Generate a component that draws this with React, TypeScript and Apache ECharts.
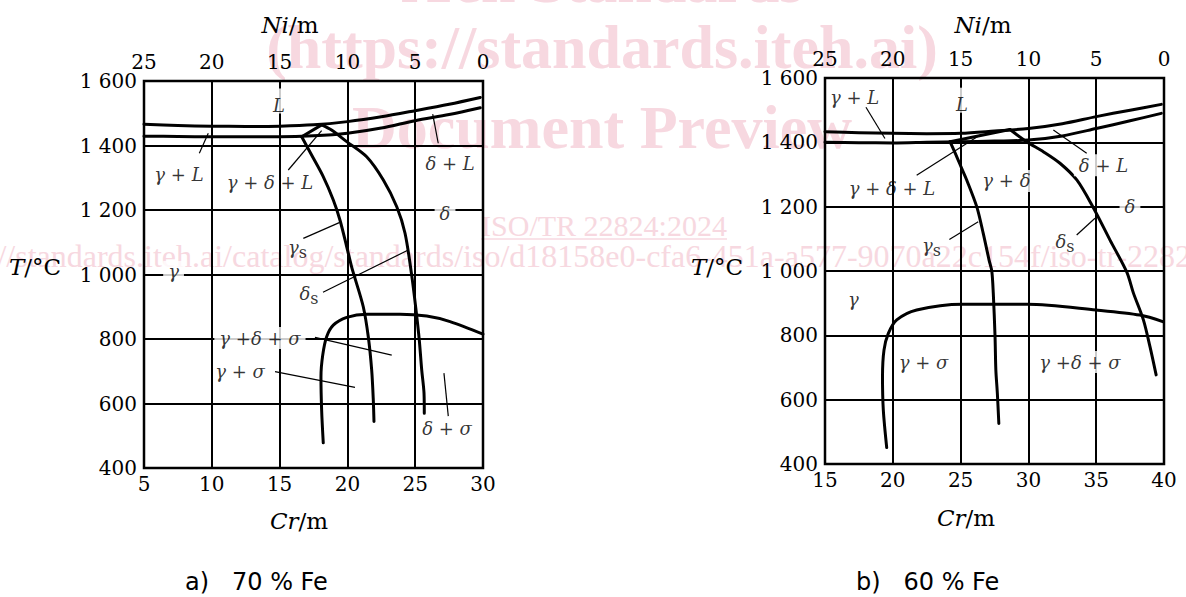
import { useEffect, useRef } from 'react';
import * as echarts from 'echarts';

const FONT = 'DejaVu Serif';
const INK = '#000';
const PINK = '#f7d8e0';

// ---- axes ----
const tempTicks = [400, 600, 800, 1000, 1200, 1400, 1600];
const tempTickLabels = ['400', '600', '800', '1 000', '1 200', '1 400', '1 600'];
const crRangeA = [5, 30];
const crRangeB = [15, 40];
const niRange = [0, 25];

// ---- a) 70 % Fe : [Cr, T] ----
const upperA = [[5, 1466], [7.5, 1462], [10, 1460], [12.5, 1459], [15, 1460], [17.5, 1464], [20, 1474], [22.5, 1489], [25, 1508], [27.5, 1528], [29.8, 1549]];
const lowerA = [[5, 1429], [7.5, 1428], [10, 1427], [12.5, 1427], [15, 1427], [17.5, 1430], [20, 1438], [22.5, 1454], [25, 1477], [27.5, 1496], [29.8, 1517]];
const edgeA = [[16.63, 1427], [18.1, 1464]];
const gammaSolvusA = [[16.63, 1427], [17.3, 1375], [18.2, 1305], [18.96, 1231], [19.45, 1169], [19.95, 1086], [20.31, 1024], [20.49, 998], [21.17, 900], [21.54, 807], [21.79, 704], [21.91, 611], [21.96, 544]];
const deltaSolvusA = [[18.1, 1464], [18.83, 1448], [19.95, 1412], [21.42, 1365], [22.65, 1293], [23.64, 1210], [24.25, 1128], [24.74, 998], [25.06, 890], [25.3, 797], [25.48, 704], [25.65, 632], [25.67, 570]];
const sigmaA = [[18.22, 478], [18.1, 580], [18.05, 683], [18.18, 750], [18.47, 807], [18.96, 843], [19.95, 867], [21.42, 877], [23.88, 877], [25.85, 871], [27.57, 854], [30, 815]];

// ---- b) 60 % Fe : [Cr, T] ----
const upperB = [[15, 1433], [17.5, 1430], [20, 1428], [22.5, 1427], [25, 1428], [27.5, 1435], [30, 1443], [32.5, 1458], [35, 1480], [37.5, 1500], [39.8, 1518]];
const lowerB = [[15, 1400], [17.5, 1399], [20, 1398], [22.5, 1400], [25, 1402], [27.5, 1404], [30, 1407], [32.5, 1420], [35, 1443], [37.5, 1467], [39.8, 1490]];
const edgeB = [[24.22, 1402], [28.64, 1440]];
const gammaSolvusB = [[24.22, 1402], [24.72, 1355], [25.08, 1319], [25.45, 1283], [26.19, 1200], [26.67, 1117], [27.1, 1034], [27.3, 1000], [27.41, 931], [27.54, 796], [27.6, 692], [27.71, 620], [27.82, 526]];
const deltaSolvusB = [[28.64, 1440], [29.87, 1402], [31.1, 1371], [32.33, 1335], [33.57, 1283], [34.76, 1199], [36.02, 1096], [37.25, 997], [37.74, 932], [38.48, 848], [38.97, 764], [39.42, 677]];
const sigmaB = [[19.55, 451], [19.3, 568], [19.24, 671], [19.35, 754], [19.67, 806], [20.29, 848], [21.76, 879], [25.15, 897], [29.95, 897], [34.99, 879], [38.23, 863], [39.96, 842]];

// ---- region labels and leader lines ----
const labelsA = [
  { text: 'L', at: [14.96, 1538], mask: 'top' },
  { text: 'γ + L', at: [7.58, 1309] },
  { text: 'γ + δ + L', at: [14.29, 1284] },
  { text: 'δ + L', at: [27.57, 1343] },
  { text: 'δ', at: [27.2, 1188], mask: 'line' },
  { text: 'γ', at: [7.18, 1008], mask: 'line' },
  { text: '{g|γ}{s|s}', at: [16.32, 1084] },
  { text: '{g|δ}{s|s}', at: [17.17, 940] },
  { text: 'γ +δ + σ', at: [13.55, 803], mask: 'line' },
  { text: 'γ + σ', at: [12.08, 698] },
  { text: 'δ + σ', at: [27.35, 524] },
];
const leadersA = [
  [[9.08, 1376], [9.74, 1438]],
  [[15.64, 1324], [18.1, 1446]],
  [[26.7, 1407], [26.29, 1497]],
  [[16.75, 1112], [19.4, 1161]],
  [[18.2, 945], [24.49, 1076]],
  [[17.61, 805], [23.27, 750]],
  [[14.66, 699], [20.56, 650]],
  [[27.44, 561], [27.12, 694]],
];
const labelsB = [
  { text: 'γ + L', at: [17.18, 1538] },
  { text: 'L', at: [25.1, 1531], mask: 'top' },
  { text: 'γ + δ + L', at: [19.94, 1255] },
  { text: 'γ + δ', at: [28.38, 1280], mask: 'line' },
  { text: 'δ + L', at: [35.54, 1329], mask: 'line' },
  { text: 'δ', at: [37.49, 1199], mask: 'line' },
  { text: '{g|γ}{s|s}', at: [22.85, 1078] },
  { text: '{g|δ}{s|s}', at: [32.7, 1093] },
  { text: 'γ', at: [17.1, 910] },
  { text: 'γ + σ', at: [22.26, 717] },
  { text: 'γ +δ + σ', at: [33.8, 717], mask: 'line' },
];
const leadersB = [
  [[18.02, 1509], [19.42, 1412]],
  [[21.76, 1298], [26.43, 1423]],
  [[34.3, 1366], [31.84, 1438]],
  [[24.17, 1098], [26.3, 1153]],
  [[33.56, 1112], [34.91, 1164]],
];

const tFormatter = (v: number) => {
  const i = tempTicks.indexOf(v);
  return i >= 0 ? tempTickLabels[i] : '';
};

const axisLabelStyle = { fontFamily: FONT, fontSize: 20, color: INK };

function crAxis(gridIndex: number, range: number[]) {
  return {
    type: 'value', gridIndex, position: 'bottom', min: range[0], max: range[1], interval: 5,
    axisLine: { show: false }, axisTick: { show: false },
    splitLine: { show: true, lineStyle: { color: INK, width: 2 } },
    axisLabel: { ...axisLabelStyle, margin: 6 },
  };
}
function niAxis(gridIndex: number) {
  return {
    type: 'value', gridIndex, position: 'top', min: niRange[0], max: niRange[1], interval: 5, inverse: true,
    axisLine: { show: false }, axisTick: { show: false }, splitLine: { show: false },
    axisLabel: { ...axisLabelStyle, margin: 9 },
  };
}
function tAxis(gridIndex: number) {
  return {
    type: 'value', gridIndex, min: 400, max: 1600, interval: 200,
    axisLine: { show: false }, axisTick: { show: false },
    splitLine: { show: true, lineStyle: { color: INK, width: 2 } },
    axisLabel: { ...axisLabelStyle, margin: 7, formatter: tFormatter },
  };
}

const richLabel = {
  g: { fontFamily: FONT, fontStyle: 'italic', fontSize: 18, color: INK },
  s: { fontFamily: FONT, fontStyle: 'normal', fontSize: 16, color: INK, padding: [10, 0, 0, 0] },
};

function panel(xIdx: number, yIdx: number, curves: { data: number[][]; smooth: number }[], leaders: number[][][], labels: any[]) {
  const out: any[] = curves.map((c) => ({
    type: 'line', xAxisIndex: xIdx, yAxisIndex: yIdx, data: c.data, smooth: c.smooth,
    symbol: 'none', showSymbol: false, silent: true, z: 5,
    lineStyle: { color: INK, width: 3, cap: 'round', join: 'round' },
  }));
  out.push({
    type: 'lines', coordinateSystem: 'cartesian2d', xAxisIndex: xIdx, yAxisIndex: yIdx, silent: true, z: 4,
    lineStyle: { color: INK, width: 1.2, opacity: 1, curveness: 0 },
    data: leaders.map((c) => ({ coords: c })),
  });
  out.push({
    type: 'scatter', xAxisIndex: xIdx, yAxisIndex: yIdx, symbolSize: 0, silent: true, z: 6,
    itemStyle: { color: 'transparent' },
    label: {
      show: true, position: 'inside', fontFamily: FONT, fontStyle: 'italic', fontSize: 18, color: INK,
      textBorderWidth: 0, textBorderColor: 'transparent', rich: richLabel,
    },
    data: labels.map((l) => ({
      value: l.at,
      label: {
        formatter: l.text,
        backgroundColor: l.mask ? '#fff' : 'transparent',
        padding: l.mask === 'top' ? [9, 4, 0, 4] : l.mask === 'line' ? [2, 5, 2, 5] : 0,
        lineHeight: l.mask === 'top' ? 16 : undefined,
      },
    })),
  });
  return out;
}

function buildOption() {
  const curvesA = [
    { data: upperA, smooth: 0.3 }, { data: lowerA, smooth: 0.3 }, { data: edgeA, smooth: 0 },
    { data: gammaSolvusA, smooth: 0.3 }, { data: deltaSolvusA, smooth: 0.3 }, { data: sigmaA, smooth: 0.3 },
  ];
  const curvesB = [
    { data: upperB, smooth: 0.3 }, { data: lowerB, smooth: 0.3 }, { data: edgeB, smooth: 0 },
    { data: gammaSolvusB, smooth: 0.3 }, { data: deltaSolvusB, smooth: 0.3 }, { data: sigmaB, smooth: 0.3 },
  ];
  const titleStyle = (text: string) => ({
    text, align: 'center', verticalAlign: 'middle', fontFamily: FONT, fontSize: 23, fill: INK,
    rich: {
      i: { fontFamily: FONT, fontStyle: 'italic', fontSize: 23, fill: INK },
      n: { fontFamily: FONT, fontSize: 23, fill: INK },
    },
  });
  const wm = (text: string, x: number, y: number, size: number, weight: string) => ({
    type: 'text', x, y, z: -10, silent: true,
    style: { text, align: 'center', verticalAlign: 'middle', fontFamily: 'Liberation Serif', fontSize: size, fontWeight: weight, fill: PINK },
  });
  return {
    animation: false,
    backgroundColor: '#fff',
    grid: [
      { left: 144, top: 81, width: 339, height: 387, show: true, borderColor: INK, borderWidth: 2.5, backgroundColor: 'transparent', containLabel: false, outerBoundsMode: 'none' },
      { left: 825, top: 78, width: 339, height: 386, show: true, borderColor: INK, borderWidth: 2.5, backgroundColor: 'transparent', containLabel: false, outerBoundsMode: 'none' },
    ],
    xAxis: [crAxis(0, crRangeA), niAxis(0), crAxis(1, crRangeB), niAxis(1)],
    yAxis: [tAxis(0), tAxis(1)],
    series: [...panel(0, 0, curvesA, leadersA, labelsA), ...panel(2, 1, curvesB, leadersB, labelsB)],
    graphic: [
      wm('iTeh Standards', 602, -19, 62, 'bold'),
      wm('(https://standards.iteh.ai)', 602, 47, 62, 'bold'),
      wm('Document Preview', 602, 127, 62, 'bold'),
      wm('ISO/TR 22824:2024', 604, 225, 30, 'normal'),
      { type: 'line', z: -10, silent: true, shape: { x1: 481, y1: 239, x2: 727, y2: 239 }, style: { stroke: PINK, lineWidth: 1.5 } },
      wm('https://standards.iteh.ai/catalog/standards/iso/d18158e0-cfa6-451a-a577-9070a22c154f/iso-tr-22824-2024', 604, 256, 32, 'normal'),

      { type: 'text', x: 290, y: 25, style: titleStyle('{i|Ni}{n|/m}') },
      { type: 'text', x: 983, y: 25, style: titleStyle('{i|Ni}{n|/m}') },
      { type: 'text', x: 299, y: 521, style: titleStyle('{i|Cr}{n|/m}') },
      { type: 'text', x: 966, y: 518, style: titleStyle('{i|Cr}{n|/m}') },
      { type: 'text', x: 35, y: 267, style: titleStyle('{i|T}{n|/°C}') },
      { type: 'text', x: 717, y: 267, style: titleStyle('{i|T}{n|/°C}') },

      { type: 'text', x: 185, y: 582, style: { text: 'a)\u00a0\u00a0\u00a070 % Fe', align: 'left', verticalAlign: 'middle', fontFamily: 'DejaVu Sans', fontSize: 24, fill: INK } },
      { type: 'text', x: 856, y: 582, style: { text: 'b)\u00a0\u00a0\u00a060 % Fe', align: 'left', verticalAlign: 'middle', fontFamily: 'DejaVu Sans', fontSize: 24, fill: INK } },
    ],
  };
}

export default function App() {
  const ref = useRef<HTMLDivElement>(null);
  useEffect(() => {
    document.body.style.margin = '0';
    const chart = echarts.init(ref.current as HTMLDivElement, null, { renderer: 'svg' });
    chart.setOption(buildOption() as any);
    return () => chart.dispose();
  }, []);
  return <div ref={ref} style={{ width: 1186, height: 597, background: '#fff' }} />;
}
